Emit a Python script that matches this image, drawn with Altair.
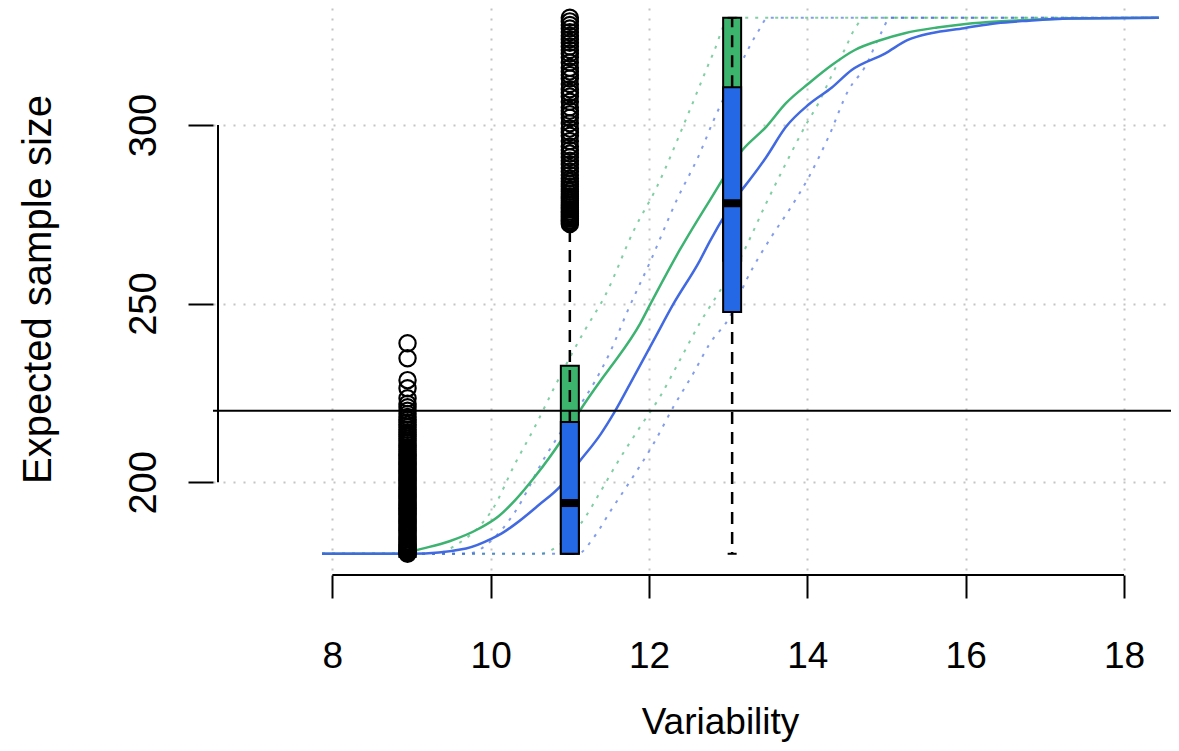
import altair as alt
import pandas as pd

# ---------------- data ----------------
X_TICKS = [8, 10, 12, 14, 16, 18]
Y_TICKS = [200, 250, 300]
H_LINE = 220

green_x = [7.87, 8.9, 9.06, 9.48, 9.85, 10.1, 10.31, 10.56, 10.885, 11.11, 11.39, 11.52, 11.89, 12.02,
           12.39, 12.77, 13.18, 13.48, 13.73, 14.02, 14.31, 14.6, 14.93, 15.23, 15.64, 16.0, 16.4, 16.8,
           17.3, 18.44]
green_y = [180, 180, 181, 183.5, 187, 190.5, 195, 201.6, 211.5, 219.5, 228.5, 232.4, 244.5, 250,
           265.1, 279, 293, 299.5, 306.1, 311.7, 316.8, 321, 323.8, 325.7, 327.3, 328.3, 329, 329.4,
           329.8, 330]

blue_x = [7.87, 9.0, 9.69, 10.02, 10.14, 10.31, 10.6, 10.885, 11.11, 11.39, 11.56, 11.81, 12.06, 12.31,
          12.64, 12.77, 13.14, 13.27, 13.48, 13.73, 14.02, 14.31, 14.56, 14.98, 15.27, 15.56, 15.98,
          16.39, 16.8, 17.3, 18.44]
blue_y = [180, 180, 181.5, 184.3, 185.7, 188.3, 193.5, 199, 205.5, 213.5, 219.5, 229.6, 239.8, 250,
          262, 267.5, 280.9, 284.6, 291, 299.5, 305.8, 310.5, 315.4, 320, 323.8, 325.7, 327.1,
          328.5, 329.2, 329.8, 330]

green_upper_x = [7.87, 9.3, 9.6, 9.85, 10.02, 10.31, 10.56, 10.81, 11.19, 11.44, 11.81, 12.1, 12.48,
                 12.81, 13.02, 18.44]
green_upper_y = [180, 180, 183, 187.5, 192.3, 205.3, 215.6, 226.8, 242.6, 252, 270.6, 282.7, 302.3,
                 320, 330, 330]

blue_upper_x = [7.87, 9.7, 10.0, 10.31, 10.69, 10.85, 11.31, 11.5, 11.73, 12.02, 12.35, 12.64, 12.81,
                13.14, 13.39, 13.5, 18.44]
blue_upper_y = [180, 180, 183.5, 191.8, 207.2, 212.8, 228, 236, 248, 262, 279, 292, 301,
                316.3, 326.6, 330, 330]

green_lower_x = [7.87, 10.6, 10.9, 11.14, 11.39, 11.6, 11.89, 12.14, 12.39, 12.64, 12.85, 13.14, 13.48,
                 13.73, 13.98, 14.14, 14.31, 14.48, 14.6, 14.73, 18.44]
green_lower_y = [180, 180, 183, 188.5, 197.5, 205.5, 215.6, 224, 234.2, 244.5, 252, 262.2, 278.1,
                 289.3, 300, 306.1, 314, 321.5, 327, 330, 330]

blue_lower_x = [7.87, 11.1, 11.31, 11.52, 11.77, 12.06, 12.31, 12.56, 12.77, 13.02, 13.23, 13.56, 13.77,
                14.02, 14.27, 14.52, 14.73, 14.93, 15.05, 18.44]
blue_lower_y = [180, 180, 184.8, 192.2, 200.6, 210.9, 221.2, 230.5, 238.9, 246.3, 256.6, 269.2, 276.2,
                285.5, 296.8, 309.8, 316.3, 325.7, 330, 330]

# box plots: green boxes drawn first, blue boxes (with whiskers) on top
box_pos = [8.95, 11.0, 13.05]
green_q1 = [180, 180, 262]
green_med = [180, 200, 300]
green_q3 = [180, 232.6, 330]

blue_q1 = [180, 180, 247.7]
blue_med = [180, 194.2, 278.1]
blue_q3 = [180, 216.9, 310.6]
blue_wlo = [180, 180, 180]
blue_whi = [180, 271, 330]

out_y_9 = [180, 180.3, 180.6, 181, 181.4, 181.8, 182.2, 182.6, 183, 183.5, 184, 184.5, 185, 185.5,
           186, 186.5, 187, 187.5, 188, 188.5, 189, 189.5, 190, 190.5, 191, 191.5, 192, 192.5, 193,
           193.5, 194, 194.5, 195, 195.5, 196, 196.5, 197, 197.5, 198, 198.5, 199, 199.5, 200, 200.5,
           201, 201.5, 202, 202.5, 203, 203.5, 204, 204.5, 205, 205.5, 206, 206.5, 207, 207.5, 208,
           208.6, 209.2, 209.8, 210.4, 211, 211.6, 212.2, 212.8, 213.4, 214, 214.7, 215.4, 216.1,
           216.8, 217.5, 218.3, 219.1, 220, 221, 222, 223.5, 226.3, 228.6, 234.7, 238.9]
out_y_11 = [272.3, 272.8, 273.3, 273.8, 274.3, 274.8, 275.3, 275.8, 276.4, 277, 277.6, 278.2, 278.8,
            279.4, 280, 280.7, 281.4, 282.1, 282.8, 283.5, 284.2, 285, 286, 287, 288, 289, 290, 291,
            292, 293, 294, 295.5, 297, 298, 299, 300.5, 302, 303, 304, 305, 306.5, 308, 309, 310,
            311.5, 313, 314, 315, 316, 317.5, 319, 320, 321, 322, 323, 324, 325, 326, 327, 328, 329,
            330]

# ---------------- layout / style ----------------
FONT = "Liberation Sans"
GREEN = "#3cb371"
BLUE = "#4169e1"
GREEN_BOX = "#3cb46e"
BLUE_BOX = "#2468e6"
XMIN, XMAX = 6.556, 18.53
YMIN, YMAX = 174.06, 332.75
W, H = 958, 567

xs = alt.Scale(domain=[XMIN, XMAX], nice=False, zero=False)
ys = alt.Scale(domain=[YMIN, YMAX], nice=False, zero=False)

x_axis = alt.Axis(values=X_TICKS, format="d", domain=False, ticks=True, tickSize=23, tickWidth=2,
                  tickColor="black", labelFont=FONT, labelFontSize=37, labelColor="black",
                  labelPadding=69, labelBaseline="alphabetic", labelFlush=False, labelOverlap=False,
                  grid=True, gridColor="#c4c4c4", gridDash=[2, 8], gridWidth=2,
                  title="Variability", titleFont=FONT, titleFontSize=37, titleFontWeight="normal",
                  titleColor="black", titleX=507, titleY=158, titleAlign="center",
                  titleBaseline="alphabetic")
y_axis = alt.Axis(values=Y_TICKS, format="d", domain=False, ticks=True, tickSize=25, tickWidth=2,
                  tickColor="black", labelFont=FONT, labelFontSize=38, labelColor="black",
                  labelAngle=270, labelAlign="center", labelBaseline="alphabetic", labelPadding=33,
                  labelFlush=False, labelOverlap=False,
                  grid=True, gridColor="#c4c4c4", gridDash=[2, 8], gridWidth=2,
                  title="Expected sample size", titleFont=FONT, titleFontSize=40,
                  titleFontWeight="normal", titleColor="black", titleAngle=270,
                  titleX=-163, titleY=281, titleAlign="center", titleBaseline="alphabetic")


def X(field):
    return alt.X(field, scale=xs, axis=x_axis)


def Y(field):
    return alt.Y(field, scale=ys, axis=y_axis)


lines = []
for name, xx, yy in [("green", green_x, green_y), ("blue", blue_x, blue_y)]:
    lines += [{"series": name, "x": a, "y": b} for a, b in zip(xx, yy)]
lines_df = pd.DataFrame(lines)

bands = []
for name, col, xx, yy in [("gu", "green", green_upper_x, green_upper_y),
                          ("gl", "green", green_lower_x, green_lower_y),
                          ("bu", "blue", blue_upper_x, blue_upper_y),
                          ("bl", "blue", blue_lower_x, blue_lower_y)]:
    bands += [{"series": name, "col": col, "x": a, "y": b} for a, b in zip(xx, yy)]
bands_df = pd.DataFrame(bands)

color_scale = alt.Scale(domain=["green", "blue"], range=[GREEN, BLUE])

band_layer = alt.Chart(bands_df).mark_line(strokeWidth=2, strokeDash=[3, 7], opacity=0.65,
                                           interpolate="monotone").encode(
    x=X("x:Q"), y=Y("y:Q"), detail="series:N",
    color=alt.Color("col:N", scale=color_scale, legend=None),
)

line_layer = alt.Chart(lines_df).mark_line(strokeWidth=2.5, interpolate="monotone").encode(
    x=X("x:Q"), y=Y("y:Q"),
    color=alt.Color("series:N", scale=color_scale, legend=None),
)

green_df = pd.DataFrame({"pos": box_pos, "q1": green_q1, "med": green_med, "q3": green_q3})
blue_df = pd.DataFrame({"pos": box_pos, "q1": blue_q1, "med": blue_med, "q3": blue_q3,
                        "wlo": blue_wlo, "whi": blue_whi})


def box_and_median(df, fill):
    base = alt.Chart(df)
    box = base.mark_bar(size=18, fill=fill, stroke="black", strokeWidth=2, opacity=1).encode(
        x=X("pos:Q"), y=Y("q1:Q"), y2="q3:Q")
    med_l = base.mark_tick(orient="horizontal", size=18, thickness=8, color="black", opacity=1).encode(
        x=X("pos:Q"), y=Y("med:Q"))
    return [box, med_l]


bb = alt.Chart(blue_df)
whisk_hi = bb.mark_rule(color="black", strokeWidth=2.5, strokeDash=[12, 8]).encode(
    x=X("pos:Q"), y=Y("q3:Q"), y2="whi:Q")
whisk_lo = bb.mark_rule(color="black", strokeWidth=2.5, strokeDash=[12, 8]).encode(
    x=X("pos:Q"), y=Y("q1:Q"), y2="wlo:Q")
cap_hi = bb.mark_tick(orient="horizontal", size=9, thickness=2, color="black", opacity=1).encode(
    x=X("pos:Q"), y=Y("whi:Q"))
cap_lo = bb.mark_tick(orient="horizontal", size=9, thickness=2, color="black", opacity=1).encode(
    x=X("pos:Q"), y=Y("wlo:Q"))

out_df = pd.DataFrame({"pos": [box_pos[0]] * len(out_y_9) + [box_pos[1]] * len(out_y_11),
                       "y": out_y_9 + out_y_11})
outliers = alt.Chart(out_df).mark_point(shape="circle", filled=False, size=265, strokeWidth=2.2,
                                        color="black", opacity=1).encode(
    x=X("pos:Q"), y=Y("y:Q"))

hline = alt.Chart(pd.DataFrame({"h": [H_LINE]})).mark_rule(color="black", strokeWidth=2).encode(
    y=Y("h:Q"))

x_axis_line = alt.Chart(pd.DataFrame({"a": [X_TICKS[0]], "b": [X_TICKS[-1]], "c": [YMIN]})).mark_rule(
    color="black", strokeWidth=2).encode(x=X("a:Q"), x2="b:Q", y=Y("c:Q"))
y_axis_line = alt.Chart(pd.DataFrame({"a": [XMIN], "b": [Y_TICKS[0]], "c": [Y_TICKS[-1]]})).mark_rule(
    color="black", strokeWidth=2).encode(x=X("a:Q"), y=Y("b:Q"), y2="c:Q")

chart = alt.layer(
    band_layer, line_layer,
    *box_and_median(green_df, GREEN_BOX),
    whisk_hi, whisk_lo, cap_hi, cap_lo,
    *box_and_median(blue_df, BLUE_BOX),
    outliers, hline, x_axis_line, y_axis_line
).properties(
    width=W, height=H,
    autosize=alt.AutoSizeParams(type="none"),
    padding={"left": 205, "top": 0, "right": 0, "bottom": 168},
).configure_view(strokeWidth=0)

chart.save("out.html", embed_options={"renderer": "svg", "actions": False})
